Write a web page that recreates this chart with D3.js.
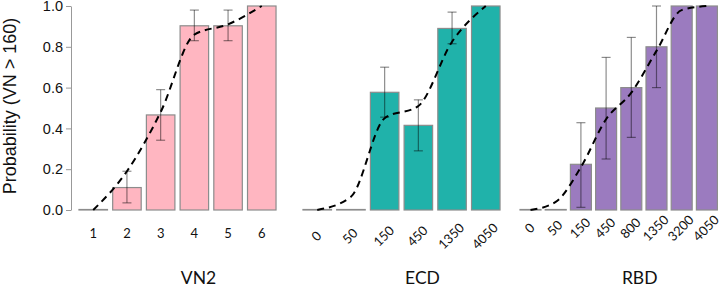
<!DOCTYPE html>
<meta charset="utf-8" />
<head>
  <style>
    body { margin: 0; background: #fff; }
    svg text { font-family: "Lato", "Open Sans", sans-serif; fill: #111; }
    .ytick text { font-family: "Liberation Sans", Arial, sans-serif; }
  </style>
</head>
<script src="https://d3js.org/d3.v7.min.js"></script>
<body>
  <div id="chart"></div>
  <script>
    ////////////////////////////////////
    ///////////// Data /////////////////
    ////////////////////////////////////

    const vn2Levels = ["1", "2", "3", "4", "5", "6"];
    const vn2Prob = [0, 0.11, 0.466, 0.903, 0.903, 1.0];
    const vn2Lo = [null, 0.035, 0.342, 0.83, 0.83, null];
    const vn2Hi = [null, 0.19, 0.59, 0.98, 0.98, null];
    const vn2Fit = [0, 0.19, 0.48, 0.86, 0.91, 1.0];

    const ecdLevels = ["0", "50", "150", "450", "1350", "4050"];
    const ecdProb = [0, 0, 0.577, 0.415, 0.89, 1.0];
    const ecdLo = [null, null, 0.455, 0.29, 0.815, null];
    const ecdHi = [null, null, 0.70, 0.54, 0.97, null];
    const ecdFit = [0, 0.065, 0.45, 0.51, 0.825, 1.0];

    const rbdLevels = ["0", "50", "150", "450", "800", "1350", "3200", "4050"];
    const rbdProb = [0, 0, 0.224, 0.5, 0.6, 0.8, 1.0, 1.0];
    const rbdLo = [null, null, 0.013, 0.25, 0.356, 0.6, null, null];
    const rbdHi = [null, null, 0.428, 0.748, 0.846, 1.0, null, null];
    const rbdFit = [0, 0.04, 0.21, 0.445, 0.575, 0.78, 0.98, 1.0];

    const yTicks = [0, 0.2, 0.4, 0.6, 0.8, 1.0];

    ////////////////////////////////////
    ///////////// SVG Setup ////////////
    ////////////////////////////////////

    const svgWidth = 720;
    const svgHeight = 287;

    const svg = d3
      .select("#chart")
      .append("svg")
      .attr("width", svgWidth)
      .attr("height", svgHeight);

    const yScale = d3.scaleLinear().domain([0, 1]).range([210, 6]);

    // y axis (only on first panel)
    const yAxis = svg
      .append("g")
      .attr("class", "ytick")
      .attr("transform", "translate(71,0)")
      .call(d3.axisLeft(yScale).tickValues(yTicks).tickFormat(d3.format(".1f")).tickSize(5).tickSizeOuter(0));
    yAxis.select(".domain").attr("stroke", "#999");
    yAxis.selectAll(".tick line").attr("stroke", "#999");
    yAxis.selectAll(".tick text").attr("font-size", "14.5px").attr("fill", "#222").attr("x", -8);

    svg
      .append("text")
      .attr("transform", "translate(16,106) rotate(-90)")
      .attr("text-anchor", "middle")
      .style("font-family", "'Liberation Sans', Arial, sans-serif")
      .attr("font-size", "18px")
      .attr("fill", "#222")
      .text("Probability (VN > 160)");

    ////////////////////////////////////
    ///////////// Panels ///////////////
    ////////////////////////////////////

    const panels = [
      { name: "VN2", levels: vn2Levels, prob: vn2Prob, lo: vn2Lo, hi: vn2Hi, fit: vn2Fit,
        range: [75.6, 279.4], pad: 0.154, color: "#FFB6C1", rotate: false, labelY: 235 },
      { name: "ECD", levels: ecdLevels, prob: ecdProb, lo: ecdLo, hi: ecdHi, fit: ecdFit,
        range: [299.6, 503.4], pad: 0.154, color: "#20B2AA", rotate: true, labelY: 237 },
      { name: "RBD", levels: rbdLevels, prob: rbdProb, lo: rbdLo, hi: rbdHi, fit: rbdFit,
        range: [517.5, 719.9], pad: 0.167, color: "#9B7BBF", rotate: true, labelY: 229 },
    ];

    panels.forEach((p) => {
      const x = d3.scaleBand().domain(p.levels).range(p.range).paddingInner(p.pad).paddingOuter(0.1);
      const g = svg.append("g");
      const rows = p.levels.map((lv, i) => ({ lv, v: p.prob[i], lo: p.lo[i], hi: p.hi[i], f: p.fit[i] }));

      // bars (zero bars still show as a flat grey line)
      g.selectAll("rect")
        .data(rows)
        .join("rect")
        .attr("x", (d) => x(d.lv))
        .attr("y", (d) => Math.min(yScale(d.v), yScale(0) - 0.5))
        .attr("width", x.bandwidth())
        .attr("height", (d) => Math.max(yScale(0) - yScale(d.v), 0.5))
        .attr("fill", p.color)
        .attr("stroke", "#8c8c8c")
        .attr("stroke-width", 1.2);

      // error bars
      const eb = rows.filter((d) => d.lo !== null);
      const cx = (d) => x(d.lv) + x.bandwidth() / 2;
      g.selectAll("line.err")
        .data(eb)
        .join("line")
        .attr("class", "err")
        .attr("x1", cx).attr("x2", cx)
        .attr("y1", (d) => yScale(d.lo)).attr("y2", (d) => yScale(d.hi))
        .attr("stroke", "rgba(0,0,0,0.45)").attr("stroke-width", 1.2);
      ["lo", "hi"].forEach((k) => {
        g.selectAll("line.cap" + k)
          .data(eb)
          .join("line")
          .attr("class", "cap" + k)
          .attr("x1", (d) => cx(d) - 4.5).attr("x2", (d) => cx(d) + 4.5)
          .attr("y1", (d) => yScale(d[k])).attr("y2", (d) => yScale(d[k]))
          .attr("stroke", "rgba(0,0,0,0.45)").attr("stroke-width", 1.2);
      });

      // fitted curve
      g.append("path")
        .datum(rows)
        .attr("d", d3.line().x(cx).y((d) => yScale(d.f)).curve(d3.curveMonotoneX))
        .attr("fill", "none")
        .attr("stroke", "#000")
        .attr("stroke-width", 2)
        .attr("stroke-dasharray", "7,5");

      // category labels
      g.selectAll("text.cat")
        .data(rows)
        .join("text")
        .attr("class", "cat")
        .attr("text-anchor", "middle")
        .attr("dominant-baseline", "middle")
        .attr("font-size", "13px")
        .attr("transform", (d) => `translate(${cx(d)},${p.labelY})` + (p.rotate ? " rotate(-45)" : ""))
        .text((d) => d.lv);

      // axis title
      g.append("text")
        .attr("x", (p.range[0] + p.range[1]) / 2 + 21)
        .attr("y", 284)
        .attr("text-anchor", "middle")
        .attr("font-size", "17.5px")
        .text(p.name);
    });
  </script>
</body>
